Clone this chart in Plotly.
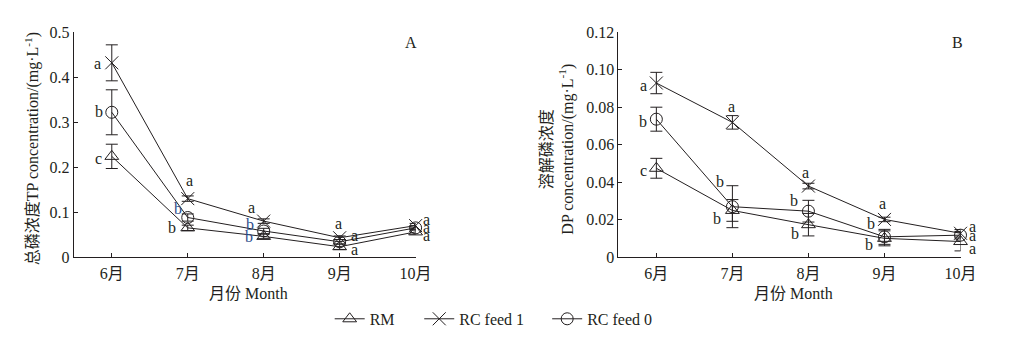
import plotly.graph_objects as go

# ---- data -------------------------------------------------------------
months = ["6月", "7月", "8月", "9月", "10月"]
series_names = ["RM", "RC feed 1", "RC feed 0"]

# Total phosphorus (mg/L)
tp_rm = [0.224, 0.065, 0.046, 0.023, 0.056]
tp_rm_err = [0.027, 0.006, 0.005, 0.006, 0.005]
tp_feed1 = [0.432, 0.130, 0.080, 0.043, 0.070]
tp_feed1_err = [0.040, 0.006, 0.005, 0.004, 0.005]
tp_feed0 = [0.322, 0.088, 0.058, 0.034, 0.065]
tp_feed0_err = [0.050, 0.008, 0.006, 0.005, 0.005]

# Dissolved phosphorus (mg/L)
dp_rm = [0.0474, 0.0249, 0.0173, 0.0100, 0.0083]
dp_rm_err = [0.0053, 0.0058, 0.0060, 0.0040, 0.0050]
dp_feed1 = [0.0929, 0.0719, 0.0379, 0.0201, 0.0127]
dp_feed1_err = [0.0057, 0.0036, 0.0015, 0.0012, 0.0020]
dp_feed0 = [0.0736, 0.0269, 0.0245, 0.0108, 0.0117]
dp_feed0_err = [0.0064, 0.0112, 0.0058, 0.0040, 0.0020]

# significance letters
tp_rm_sig = ["c", "b", "b", "a", "a"]
tp_feed1_sig = ["a", "a", "a", "a", "a"]
tp_feed0_sig = ["b", "b", "b", "a", "a"]
dp_rm_sig = ["c", "b", "b", "b", "a"]
dp_feed1_sig = ["a", "a", "a", "a", "a"]
dp_feed0_sig = ["b", "b", "b", "b", "a"]

tp_ticks = [0, 0.1, 0.2, 0.3, 0.4, 0.5]
tp_ticktext = ["0", "0.1", "0.2", "0.3", "0.4", "0.5"]
dp_ticks = [0, 0.02, 0.04, 0.06, 0.08, 0.10, 0.12]
dp_ticktext = ["0", "0.02", "0.04", "0.06", "0.08", "0.10", "0.12"]

# ---- styling -----------------------------------------------------------
INK = "#231f20"
BLUE = "#2b4c8c"
FONT = "Liberation Serif, Noto Sans CJK SC, serif"
symbols = ["triangle-up-open", "x-thin-open", "circle-open"]
marker_sizes = [12, 13, 12]
W, H = 1009, 345

# letter offsets in pixels (xshift, yshift) per series per month
tp_rm_off = [(-13, -2), (-16, 0), (-15, 0), (15, -3), (11, -4)]
tp_feed1_off = [(-14, -1), (2, 18), (-12, 14), (-1, 14), (11, 6)]
tp_feed0_off = [(-13, 1), (-10, 9), (-14, 7), (15, 6), (11, 0)]
dp_rm_off = [(-13, -2), (-15, -8), (-13, -9), (-15, -6), (12, -7)]
dp_feed1_off = [(-13, -2), (-1, 16), (-3, 14), (-2, 16), (12, 7)]
dp_feed0_off = [(-13, -2), (-12, 25), (-14, 11), (-13, 13), (12, 0)]

fig = go.Figure()

panels = [
    ("x", "y", [tp_rm, tp_feed1, tp_feed0], [tp_rm_err, tp_feed1_err, tp_feed0_err]),
    ("x2", "y2", [dp_rm, dp_feed1, dp_feed0], [dp_rm_err, dp_feed1_err, dp_feed0_err]),
]
legend_ids = ["legend", "legend2", "legend3"]

for p, (xa, ya, vals, errs) in enumerate(panels):
    for i in range(3):
        fig.add_trace(go.Scatter(
            x=list(range(len(months))), y=vals[i],
            xaxis=xa, yaxis=ya,
            mode="lines+markers",
            name=series_names[i],
            showlegend=(p == 0),
            legend=legend_ids[i],
            line=dict(color=INK, width=1),
            marker=dict(symbol=symbols[i], size=marker_sizes[i], color=INK,
                        line=dict(color=INK, width=1)),
            error_y=dict(type="data", array=errs[i], visible=True,
                         color=INK, thickness=1, width=6),
            cliponaxis=False,
        ))

annotations = []


def add_letters(xref, yref, values, letters, offsets, colors):
    for k, (v, s) in enumerate(zip(values, letters)):
        dx, dy = offsets[k]
        annotations.append(dict(
            x=k, y=v, xref=xref, yref=yref, text=s, showarrow=False,
            xshift=dx, yshift=dy, font=dict(family=FONT, size=16, color=colors[k]),
        ))


add_letters("x", "y", tp_rm, tp_rm_sig, tp_rm_off, [INK, INK, BLUE, INK, INK])
add_letters("x", "y", tp_feed1, tp_feed1_sig, tp_feed1_off, [INK] * 5)
add_letters("x", "y", tp_feed0, tp_feed0_sig, tp_feed0_off, [INK, BLUE, BLUE, INK, INK])
add_letters("x2", "y2", dp_rm, dp_rm_sig, dp_rm_off, [INK] * 5)
add_letters("x2", "y2", dp_feed1, dp_feed1_sig, dp_feed1_off, [INK] * 5)
add_letters("x2", "y2", dp_feed0, dp_feed0_sig, dp_feed0_off, [INK] * 5)


def paper_text(px, py, text, size=16, angle=0):
    annotations.append(dict(
        x=px / W, y=1 - py / H, xref="paper", yref="paper", text=text,
        xanchor="center", yanchor="middle", showarrow=False, textangle=angle,
        font=dict(family=FONT, size=size, color=INK),
    ))


# panel tags
paper_text(418, 36, "A")
paper_text(973, 36, "B")

# axis titles
paper_text(33, 148, "总磷浓度TP concentration/(mg·L<sup>-1</sup>)", 16, -90)
paper_text(567, 149, "溶解磷浓度<br>DP concentration/(mg·L<sup>-1</sup>)", 16, -90)
paper_text(252, 300, "月份 Month", 16)
paper_text(806, 300, "月份 Month", 16)

ydom = [1 - 262 / H, 1 - 25.5 / H]

xaxis_common = dict(
    range=[-0.5, 4], tickvals=list(range(len(months))), ticktext=months,
    showline=True, linecolor=INK, linewidth=1, ticks="inside", ticklen=4,
    tickcolor=INK, showgrid=False, zeroline=False,
    tickfont=dict(family=FONT, size=16, color=INK), ticklabelstandoff=2,
)
yaxis_common = dict(
    showline=True, linecolor=INK, linewidth=1, ticks="inside", ticklen=4,
    tickcolor=INK, showgrid=False, zeroline=False,
    tickfont=dict(family=FONT, size=16, color=INK), domain=ydom,
)

# legend entries placed individually along the bottom
legend_style = dict(orientation="h", xanchor="left", yanchor="middle",
                    y=1 - 327 / H, font=dict(family=FONT, size=16, color=INK),
                    bgcolor="rgba(0,0,0,0)", itemwidth=30)

fig.update_layout(
    width=W, height=H,
    margin=dict(l=0, r=0, t=0, b=0),
    paper_bgcolor="white", plot_bgcolor="white",
    xaxis=dict(domain=[75 / W, 422.3 / W], anchor="y", **xaxis_common),
    xaxis2=dict(domain=[628.3 / W, 976 / W], anchor="y2", **xaxis_common),
    yaxis=dict(range=[0, 0.5], tickvals=tp_ticks, ticktext=tp_ticktext,
               anchor="x", **yaxis_common),
    yaxis2=dict(range=[0, 0.12], tickvals=dp_ticks, ticktext=dp_ticktext,
                anchor="x2", **yaxis_common),
    legend=dict(x=(357 - 22) / W, **legend_style),
    legend2=dict(x=(448 - 22) / W, **legend_style),
    legend3=dict(x=(578 - 22) / W, **legend_style),
    annotations=annotations,
    font=dict(family=FONT, color=INK),
)

fig.write_html("out.html")
